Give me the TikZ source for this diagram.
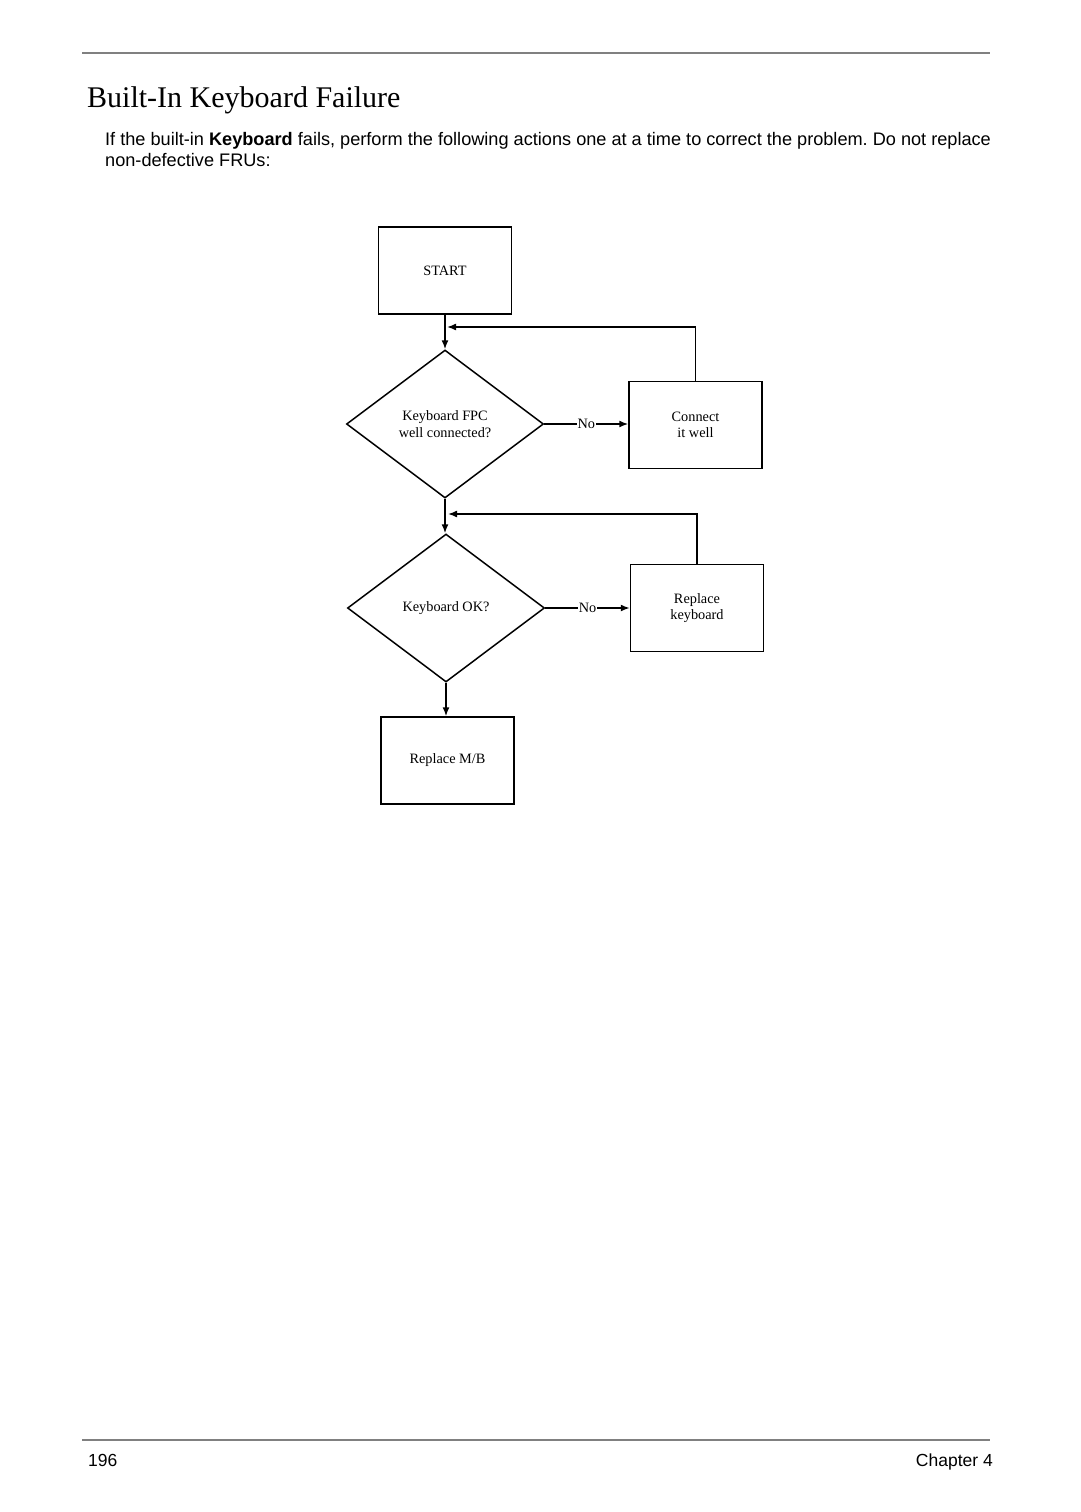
\documentclass[tikz,border=0pt]{standalone}
\usepackage{fontspec}
\setmainfont{Liberation Serif}
\newfontfamily\arialf{Liberation Sans}
\usetikzlibrary{shapes.geometric,arrows.meta}
\frenchspacing
\begin{document}
\begin{tikzpicture}[x=1pt,y=-1pt,
  box/.style={draw,line width=1.5pt,minimum width=133pt,minimum height=87pt,inner sep=0pt,align=center,font=\fontsize{14.3}{16.5}\selectfont},
  dec/.style={draw,diamond,line width=1.5pt,minimum width=197pt,minimum height=148pt,inner sep=0pt,align=center,font=\fontsize{14.3}{16.5}\selectfont},
  arr/.style={line width=1.5pt,-{Latex[length=9pt,width=7pt]}},
  rule/.style={draw=gray,line width=2pt},
  lbl/.style={fill=white,inner sep=1pt,font=\fontsize{14.3}{16}\selectfont}]
\useasboundingbox (0,0) rectangle (1080,1512);
\fill[white] (0,0) rectangle (1080,1512);
% page rules
\coordinate (r1a) at (82,53); \coordinate (r1b) at (990,53);
\coordinate (r2a) at (82,1440); \coordinate (r2b) at (990,1440);
\draw[rule] (r1a) -- (r1b);
\draw[rule] (r2a) -- (r2b);
% heading and text
\node[anchor=base west,inner sep=0pt,font=\fontsize{30}{36}\selectfont] (title) at (87,107) {Built-In Keyboard Failure};
\node[anchor=base west,inner sep=0pt,font=\arialf\fontsize{18.15}{21}\selectfont] (p1) at (105,145) {If the built-in \textbf{Keyboard} fails, perform the following actions one at a time to correct the problem. Do not replace};
\node[anchor=base west,inner sep=0pt,font=\arialf\fontsize{18.15}{21}\selectfont] (p2) at (105,166) {non-defective FRUs:};
\node[anchor=base west,inner sep=0pt,font=\arialf\fontsize{17.5}{21}\selectfont] (pg) at (88,1466) {196};
\node[anchor=base east,inner sep=0pt,font=\arialf\fontsize{17.5}{21}\selectfont] (ch) at (993,1466) {Chapter 4};
% flowchart
\node[box] (start) at (445,270.5) {START};
\node[dec] (d1) at (445,424) {Keyboard FPC\\well connected?};
\node[box] (conn) at (695.5,425) {Connect\\it well};
\node[dec] (d2) at (446,608) {Keyboard OK?};
\node[box] (rk) at (697,608) {Replace\\keyboard};
\node[box] (mb) at (447.5,760.5) {Replace M/B};
\coordinate (fb1) at (447,327);
\coordinate (fb2) at (448,514);
\draw[arr] (start.south) -- (start.south |- d1.north);
\draw[arr] (d1.east) -- node[lbl] {No} (conn.west |- d1.east);
\draw[arr] (conn.north) |- (fb1);
\draw[arr] (d1.south) -- (d1.south |- d2.north);
\draw[arr] (d2.east) -- node[lbl] {No} (rk.west |- d2.east);
\draw[arr] (rk.north) |- (fb2);
\draw[arr] (d2.south) -- (d2.south |- mb.north);
\end{tikzpicture}
\end{document}
